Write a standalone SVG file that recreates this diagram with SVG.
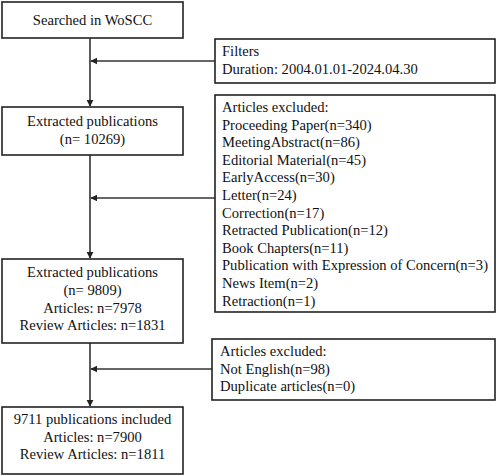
<svg xmlns="http://www.w3.org/2000/svg" width="498" height="476" viewBox="0 0 498 476">
<defs>
<style>
.box{fill:#fff;stroke:#222;stroke-width:1.6}
.t{font-family:"Liberation Serif","Times New Roman",serif;font-size:14.6px;fill:#111}
.c{text-anchor:middle}
.ln{stroke:#333;stroke-width:1.6;fill:none}
</style>
<marker id="ah" viewBox="0 0 10 10" refX="9" refY="5" markerWidth="4.5" markerHeight="4.5" orient="auto">
<path d="M0,0 L10,5 L0,10 z" fill="#222"/>
</marker>
</defs>
<rect width="498" height="476" fill="#fff"/>
<g id="connectors">
<line class="ln" x1="90" y1="38" x2="90" y2="106" marker-end="url(#ah)"/>
<line class="ln" x1="90" y1="155" x2="90" y2="258" marker-end="url(#ah)"/>
<line class="ln" x1="90" y1="343" x2="90" y2="406" marker-end="url(#ah)"/>
<line class="ln" x1="215" y1="61" x2="91" y2="61" marker-end="url(#ah)"/>
<line class="ln" x1="215" y1="198" x2="91" y2="198" marker-end="url(#ah)"/>
<line class="ln" x1="212" y1="369" x2="91" y2="369" marker-end="url(#ah)"/>
</g>
<g id="searched">
<rect class="box" x="2" y="2" width="181" height="36"/>
<text class="t c" x="92.5" y="25">Searched in WoSCC</text>
</g>
<g id="filters">
<rect class="box" x="215" y="39" width="280" height="44"/>
<text class="t" x="222" y="56">Filters</text>
<text class="t" x="222" y="74">Duration: 2004.01.01-2024.04.30</text>
</g>
<g id="extracted1">
<rect class="box" x="2" y="107" width="181" height="48"/>
<text class="t c" x="92.5" y="126">Extracted publications</text>
<text class="t c" x="92.5" y="144">(n= 10269)</text>
</g>
<g id="excluded1">
<rect class="box" x="215" y="95" width="280" height="217"/>
<text class="t" x="222" y="112">Articles excluded:</text>
<text class="t" x="222" y="129.6">Proceeding Paper(n=340)</text>
<text class="t" x="222" y="147.2">MeetingAbstract(n=86)</text>
<text class="t" x="222" y="164.8">Editorial Material(n=45)</text>
<text class="t" x="222" y="182.4">EarlyAccess(n=30)</text>
<text class="t" x="222" y="200">Letter(n=24)</text>
<text class="t" x="222" y="217.6">Correction(n=17)</text>
<text class="t" x="222" y="235.2">Retracted Publication(n=12)</text>
<text class="t" x="222" y="252.8">Book Chapters(n=11)</text>
<text class="t" x="222" y="270.4">Publication with Expression of Concern(n=3)</text>
<text class="t" x="222" y="288">News Item(n=2)</text>
<text class="t" x="222" y="305.6">Retraction(n=1)</text>
</g>
<g id="extracted2">
<rect class="box" x="2" y="259" width="181" height="84"/>
<text class="t c" x="92.5" y="277">Extracted publications</text>
<text class="t c" x="92.5" y="295">(n= 9809)</text>
<text class="t c" x="92.5" y="312.5">Articles: n=7978</text>
<text class="t c" x="92.5" y="330">Review Articles: n=1831</text>
</g>
<g id="excluded2">
<rect class="box" x="212" y="339" width="283" height="61"/>
<text class="t" x="220" y="356">Articles excluded:</text>
<text class="t" x="220" y="373.5">Not English(n=98)</text>
<text class="t" x="220" y="391">Duplicate articles(n=0)</text>
</g>
<g id="included">
<rect class="box" x="2" y="407" width="181" height="67"/>
<text class="t c" x="92.5" y="424">9711 publications included</text>
<text class="t c" x="92.5" y="441.5">Articles: n=7900</text>
<text class="t c" x="92.5" y="459">Review Articles: n=1811</text>
</g>
</svg>
